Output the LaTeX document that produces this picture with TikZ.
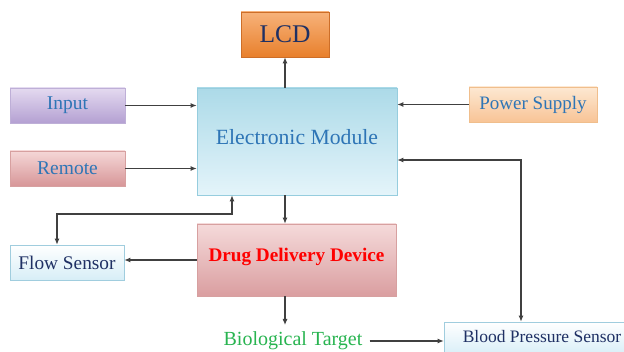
\documentclass[tikz,border=0pt]{standalone}
\usepackage{fontspec}
\setmainfont{Liberation Serif}
\usetikzlibrary{arrows.meta,shadows}
\definecolor{txtblue}{HTML}{2E75B6}
\definecolor{navy}{HTML}{1F3064}
\definecolor{linec}{HTML}{404040}
\definecolor{lcdT}{RGB}{247,178,122}\definecolor{lcdB}{RGB}{232,128,44}\definecolor{lcdD}{RGB}{205,110,40}
\definecolor{inT}{RGB}{228,218,240}\definecolor{inB}{RGB}{180,160,210}\definecolor{inD}{RGB}{190,175,215}
\definecolor{reT}{RGB}{245,215,215}\definecolor{reB}{RGB}{215,150,152}\definecolor{reD}{RGB}{215,160,160}
\definecolor{moT}{RGB}{172,218,232}\definecolor{moB}{RGB}{228,244,250}\definecolor{moD}{RGB}{150,205,222}
\definecolor{poT}{RGB}{253,232,210}\definecolor{poB}{RGB}{248,196,150}\definecolor{poD}{RGB}{240,190,140}
\definecolor{seB}{RGB}{215,238,247}\definecolor{seD}{RGB}{160,205,222}
\definecolor{ddT}{RGB}{245,218,218}\definecolor{ddB}{RGB}{218,158,160}
\definecolor{green1}{RGB}{40,180,80}
\tikzset{
  box/.style={draw=#1, line width=0.6pt, inner sep=0pt, align=center, drop shadow={shadow xshift=1.2pt, shadow yshift=-1.2pt, opacity=0.25}},
  arr/.style={draw=linec, line width=1.1pt, -{Latex[length=6pt,width=5pt]}},
  darr/.style={draw=linec, line width=1.1pt, {Latex[length=6pt,width=5pt]}-{Latex[length=6pt,width=5pt]}},
}
\begin{document}
\begin{tikzpicture}[x=1pt,y=-1pt]
\useasboundingbox (0,0) rectangle (624,352);
\fill[white] (0,0) rectangle (624,352);
\node[box=lcdD, top color=lcdT, bottom color=lcdB, minimum width=88pt, minimum height=45pt, font=\fontsize{25.5}{28}\selectfont, text=navy] (lcd) at (285,34.5) {LCD};
\node[box=inD, top color=inT, bottom color=inB, minimum width=115pt, minimum height=35pt, font=\fontsize{19.5}{21}\selectfont, text=txtblue] (input) at (67.5,105.5) {Input};
\node[box=reD, top color=reT, bottom color=reB, minimum width=115pt, minimum height=35pt, font=\fontsize{19.5}{21}\selectfont, text=txtblue] (remote) at (67.5,168.5) {Remote};
\node[box=moD, top color=moT, bottom color=moB, minimum width=200pt, minimum height=107pt, font=\fontsize{21.7}{24}\selectfont, text=txtblue, text depth=9pt] (mod) at (297,141.5) {Electronic Module};
\node[box=poD, top color=poT, bottom color=poB, minimum width=128pt, minimum height=35pt, font=\fontsize{19}{21}\selectfont, text=txtblue] (power) at (533,104.5) {Power Supply};
\node[box=seD, top color=white, bottom color=seB, minimum width=114pt, minimum height=35pt, font=\fontsize{19.3}{21}\selectfont, text=navy] (flow) at (67,262.5) {Flow Sensor};
\node[box=reD, top color=ddT, bottom color=ddB, minimum width=199pt, minimum height=72pt, font=\bfseries\fontsize{19.2}{21}\selectfont, text=red, text depth=10pt] (ddd) at (296.5,260) {Drug Delivery Device};
\node[inner sep=2pt, font=\fontsize{20}{22}\selectfont, text=green1] (bio) at (293,341) {Biological Target};
\node[box=seD, top color=white, bottom color=seB, minimum width=186pt, minimum height=34pt] (bps) at (537,339) {};
\node[font=\fontsize{17.5}{19}\selectfont, text=navy] (bpst) at (542,337) {Blood Pressure Sensor};
\coordinate (bpsj) at (521,160);
\coordinate (fr) at (232,214);
\coordinate (fl) at (57,214);
\coordinate (biotop) at (285,325);
\draw[arr] (lcd.south |- mod.north) -- (lcd.south);
\draw[arr] (input.east) -- (input.east -| mod.west);
\draw[arr] (remote.east) -- (remote.east -| mod.west);
\draw[arr] (power.west) -- (power.west -| mod.east);
\draw[darr] (mod.east |- bpsj) -- (bpsj) -- (bpsj |- bps.north);
\draw[darr] (fr |- mod.south) -- (fr) -- (fl) -- (fl |- flow.north);
\draw[arr] (lcd.south |- mod.south) -- (lcd.south |- ddd.north);
\draw[arr] (ddd.west) -- (ddd.west -| flow.east);
\draw[arr] (lcd.south |- ddd.south) -- (biotop);
\draw[arr, shorten <=5pt] (bio.east) -- (bio.east -| bps.west);
\end{tikzpicture}
\end{document}
